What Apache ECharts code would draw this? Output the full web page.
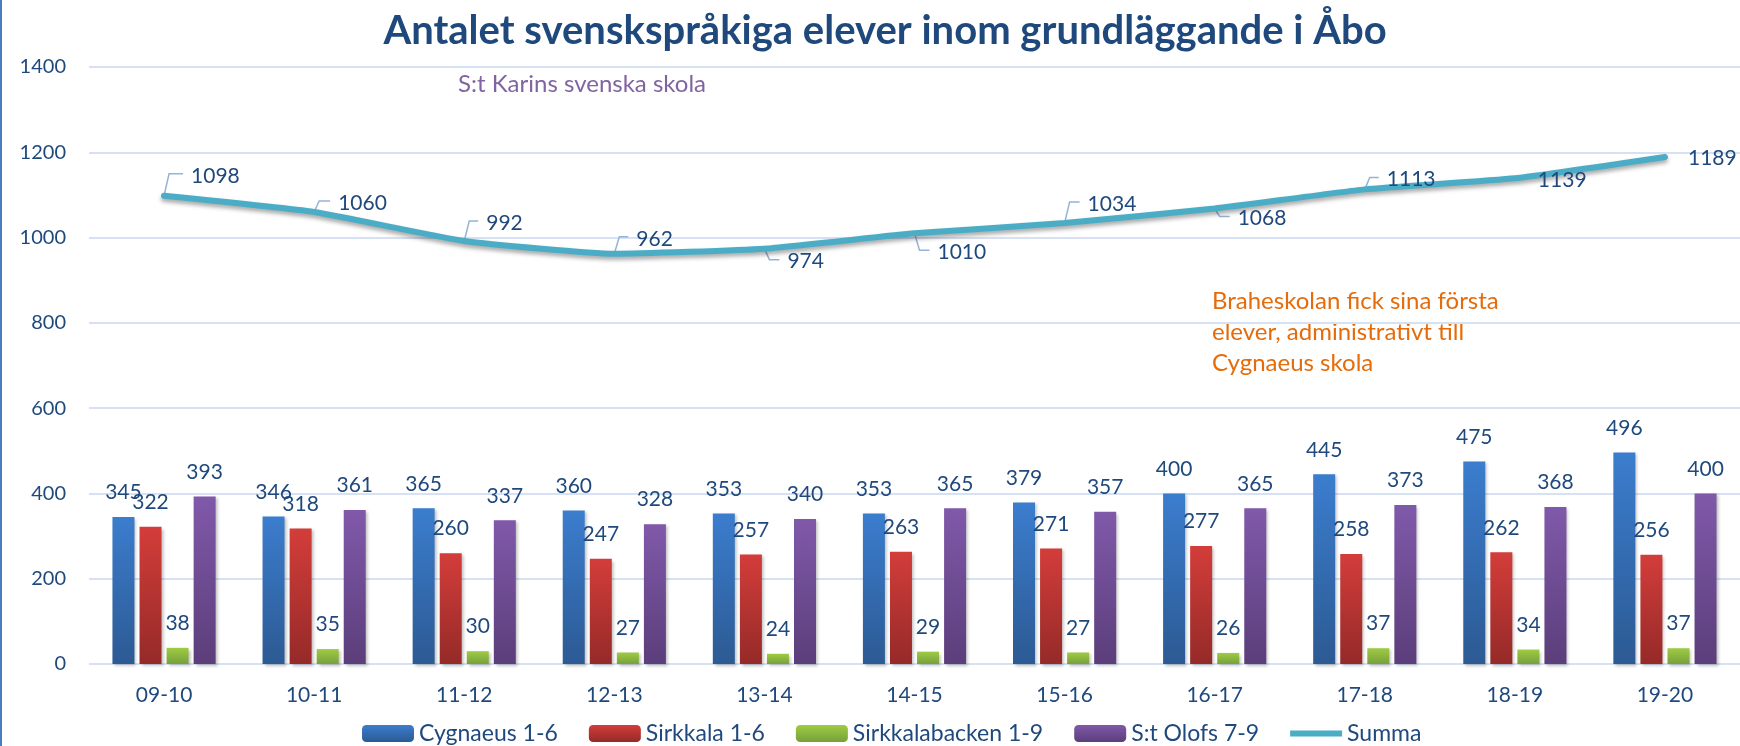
<!DOCTYPE html>
<html lang="sv">
<head>
<meta charset="utf-8" />
<title>Antalet svenskspråkiga elever</title>
<script src="https://cdn.jsdelivr.net/npm/echarts@6/dist/echarts.min.js"></script>
<style>
  html, body { margin: 0; padding: 0; background: #fff; }
  #chart { width: 1740px; height: 746px; }
</style>
</head>
<body>
<div id="chart"></div>
<script>
// läsår
var years = ['09-10', '10-11', '11-12', '12-13', '13-14', '14-15', '15-16', '16-17', '17-18', '18-19', '19-20'];

// elever per skola
var cygnaeus = [345, 346, 365, 360, 353, 353, 379, 400, 445, 475, 496];
var sirkkala = [322, 318, 260, 247, 257, 263, 271, 277, 258, 262, 256];
var sirkkalabacken = [38, 35, 30, 27, 24, 29, 27, 26, 37, 34, 37];
var stOlofs = [393, 361, 337, 328, 340, 365, 357, 365, 373, 368, 400];
var summa = [1098, 1060, 992, 962, 974, 1010, 1034, 1068, 1113, 1139, 1189];

var yTicks = [0, 200, 400, 600, 800, 1000, 1200, 1400];

// var summa-etiketten hamnar (px från punkten: vänsterkant, mitt y)
var summaLabelOffsets = [[27, -20], [24, -9], [22, -18], [22, -15], [23, 13], [23, 19],
                         [23, -19], [23, 10], [22, -10], [23, 2], [23, 1]];

var FONT = 'Lato';
var DARK = '#1f497d';

var chart = echarts.init(document.getElementById('chart'));

function grad(top, bottom) {
  return new echarts.graphic.LinearGradient(0, 0, 0, 1, [
    { offset: 0, color: top },
    { offset: 1, color: bottom }
  ]);
}

function barSeries(name, data, top, bottom) {
  return {
    name: name,
    type: 'bar',
    data: data,
    barWidth: 22,
    barGap: '23%',
    itemStyle: {
      color: grad(top, bottom),
      shadowColor: 'rgba(0,0,0,0.25)',
      shadowBlur: 3,
      shadowOffsetX: 2,
      shadowOffsetY: 2
    },
    label: {
      show: true,
      position: 'top',
      distance: 14,
      color: DARK,
      fontFamily: FONT,
      fontSize: 21
    },
    z: 2
  };
}

var option = {
  animation: false,
  backgroundColor: '#ffffff',
  title: {
    text: 'Antalet svenskspråkiga elever inom grundläggande i Åbo',
    left: 885,
    top: 11,
    padding: 0,
    textAlign: 'center',
    textStyle: { color: DARK, fontFamily: FONT, fontWeight: 'bold', fontSize: 40 }
  },
  legend: {
    data: [
      'Cygnaeus 1-6', 'Sirkkala 1-6', 'Sirkkalabacken 1-9', 'S:t Olofs 7-9',
      { name: 'Summa', icon: 'path://M0,0 L52,0 L52,6 L0,6 Z' }
    ],
    left: 362,
    top: 722,
    padding: 0,
    itemWidth: 52,
    itemHeight: 17,
    itemGap: 31,
    textStyle: { color: DARK, fontFamily: FONT, fontSize: 23 }
  },
  grid: { left: 89, right: 0, top: 67, bottom: 82 },
  xAxis: {
    type: 'category',
    data: years,
    axisLine: { show: false },
    axisTick: { show: false },
    axisLabel: { color: DARK, fontFamily: FONT, fontSize: 21, margin: 21 }
  },
  yAxis: {
    type: 'value',
    min: yTicks[0],
    max: yTicks[yTicks.length - 1],
    interval: yTicks[1] - yTicks[0],
    axisLine: { show: false },
    axisTick: { show: false },
    axisLabel: {
      color: DARK, fontFamily: FONT, fontSize: 20, margin: 23,
      formatter: function (v) { return String(v); }
    },
    splitLine: { lineStyle: { color: '#d6e2f4', width: 2 } }
  },
  graphic: [
    {
      type: 'rect', left: 0, top: 0, z: 10,
      shape: { width: 2, height: 746 },
      style: { fill: '#4a7ebb' }
    },
    {
      type: 'text', left: 458, top: 72,
      style: { text: 'S:t Karins svenska skola', fill: '#8064a2', font: '24px Lato' }
    },
    {
      type: 'text', left: 1212, top: 286,
      style: {
        text: 'Braheskolan fick sina första\nelever, administrativt till\nCygnaeus skola',
        fill: '#e46c0a', font: '24px Lato', lineHeight: 31
      }
    }
  ],
  series: [
    barSeries('Cygnaeus 1-6', cygnaeus, '#3b7dce', '#2c5a93'),
    barSeries('Sirkkala 1-6', sirkkala, '#d33d3a', '#952a28'),
    barSeries('Sirkkalabacken 1-9', sirkkalabacken, '#9fcb44', '#77a03a'),
    barSeries('S:t Olofs 7-9', stOlofs, '#8059aa', '#5b3e7a'),
    {
      // hänvisningslinjer till summa-etiketterna
      type: 'custom',
      coordinateSystem: 'cartesian2d',
      data: summa.map(function (v, i) { return [i, v]; }),
      encode: { x: 0, y: 1 },
      silent: true,
      z: 3,
      renderItem: function (params, api) {
        var p = api.coord([api.value(0), api.value(1)]);
        var off = summaLabelOffsets[params.dataIndex];
        if (Math.abs(off[1]) < 6) return null;
        var y = p[1] + off[1] - 2;
        return {
          type: 'polyline',
          shape: { points: [[p[0], p[1]], [p[0] + 5, y], [p[0] + off[0] - 8, y]] },
          style: { stroke: '#95b3d7', lineWidth: 1.5, fill: null }
        };
      }
    },
    {
      name: 'Summa',
      type: 'line',
      data: summa.map(function (v, i) {
        return {
          value: v,
          label: { offset: summaLabelOffsets[i] }
        };
      }),
      smooth: 0.15,
      symbol: 'circle',
      symbolSize: 1,
      itemStyle: { color: '#4bacc6' },
      lineStyle: {
        color: '#4bacc6',
        width: 6,
        cap: 'round',
        shadowColor: 'rgba(0,0,0,0.35)',
        shadowBlur: 4,
        shadowOffsetY: 3
      },
      label: {
        show: true,
        position: 'inside',
        align: 'left',
        verticalAlign: 'middle',
        color: DARK,
        fontFamily: FONT,
        fontSize: 21
      },
      z: 4
    }
  ]
};

chart.setOption(option);
window.onresize = function () { chart.resize(); };
</script>
</body>
</html>
